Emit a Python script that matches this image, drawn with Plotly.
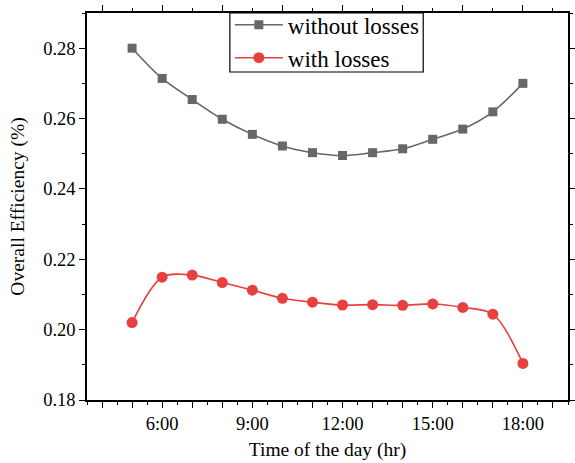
import plotly.graph_objects as go

# Hour of the day for each measurement
hours = [5, 6, 7, 8, 9, 10, 11, 12, 13, 14, 15, 16, 17, 18]

# Overall efficiency values
without_losses = [0.2800, 0.2714, 0.2654, 0.2598, 0.2555, 0.2522, 0.2503,
                  0.2495, 0.2503, 0.2514, 0.2541, 0.2570, 0.2619, 0.2700]
with_losses = [0.2020, 0.2149, 0.2155, 0.2134, 0.2112, 0.2089, 0.2078,
               0.2070, 0.2071, 0.2069, 0.2073, 0.2063, 0.2044, 0.1904]

# Tick labels on the time axis
tick_hours = list(range(4, 20))
label_hours = {6: "6:00", 9: "9:00", 12: "12:00", 15: "15:00", 18: "18:00"}
tick_text = [label_hours.get(h, "") for h in tick_hours]

GREY = "#676767"
RED = "#e8403f"
FONT = "Liberation Serif, Times New Roman, serif"
X_RANGE = [3.5, 19.5]
Y_RANGE = [0.18, 0.29]

fig = go.Figure()

fig.add_trace(go.Scatter(
    x=hours, y=without_losses, name="without losses",
    mode="lines+markers",
    line=dict(color=GREY, width=1.6, shape="spline", smoothing=0.9),
    marker=dict(symbol="square", size=9, color=GREY),
))
fig.add_trace(go.Scatter(
    x=hours, y=with_losses, name="with losses",
    mode="lines+markers",
    line=dict(color=RED, width=1.6, shape="spline", smoothing=0.9),
    marker=dict(symbol="circle", size=11, color=RED),
))

# Invisible trace that anchors the top and right frame axes
fig.add_trace(go.Scatter(
    x=hours, y=with_losses, xaxis="x2", yaxis="y2",
    mode="markers", marker=dict(opacity=0), showlegend=False,
    hoverinfo="skip",
))

axis_common = dict(
    showgrid=False, zeroline=False, showline=True,
    linecolor="black", linewidth=1.5,
    ticks="outside", tickcolor="black", tickwidth=1.2,
)

fig.update_layout(
    width=575, height=463,
    margin=dict(l=87, r=7, t=13, b=63, autoexpand=False),
    plot_bgcolor="white", paper_bgcolor="white",
    font=dict(family=FONT, color="black", size=18),
    xaxis=dict(
        **axis_common, range=X_RANGE,
        tickmode="array", tickvals=tick_hours, ticktext=tick_text,
        ticklen=6,
        minor=dict(dtick=0.5, tick0=0, ticks="outside", ticklen=3,
                   tickcolor="black", tickwidth=1.2, showgrid=False),
        tickfont=dict(size=18.5),
        title=dict(text="Time of the day (hr)", font=dict(size=19.5), standoff=9),
    ),
    yaxis=dict(
        **axis_common, range=Y_RANGE,
        tickmode="array", tickvals=[0.18, 0.20, 0.22, 0.24, 0.26, 0.28],
        ticktext=["0.18", "0.20", "0.22", "0.24", "0.26", "0.28"],
        ticklen=6,
        minor=dict(dtick=0.01, tick0=0, ticks="outside", ticklen=3,
                   tickcolor="black", tickwidth=1.2, showgrid=False),
        tickfont=dict(size=18.5),
        title=dict(text="Overall Efficiency (%)", font=dict(size=19.5), standoff=13),
    ),
    xaxis2=dict(
        **axis_common, overlaying="x", side="top", range=X_RANGE,
        dtick=2, tick0=0, ticklen=6, showticklabels=False,
        minor=dict(dtick=1, tick0=0, ticks="outside", ticklen=3,
                   tickcolor="black", tickwidth=1.2, showgrid=False),
    ),
    yaxis2=dict(
        **axis_common, overlaying="y", side="right", range=Y_RANGE,
        dtick=0.02, tick0=0, ticklen=6, showticklabels=False,
        minor=dict(dtick=0.01, tick0=0, ticks="outside", ticklen=3,
                   tickcolor="black", tickwidth=1.2, showgrid=False),
    ),
    legend=dict(
        x=0.297, y=1.025, xanchor="left", yanchor="top",
        bgcolor="rgba(0,0,0,0)", borderwidth=0,
        font=dict(size=23, family=FONT),
        itemwidth=48, tracegroupgap=0,
    ),
    # Frame around the legend entries
    shapes=[dict(
        type="rect", xref="paper", yref="paper",
        x0=0.297, x1=0.699, y0=0.8475, y1=1.0,
        line=dict(color="black", width=1.2), fillcolor="white", layer="below",
    )],
    showlegend=True,
)

fig.write_html("out.html")
